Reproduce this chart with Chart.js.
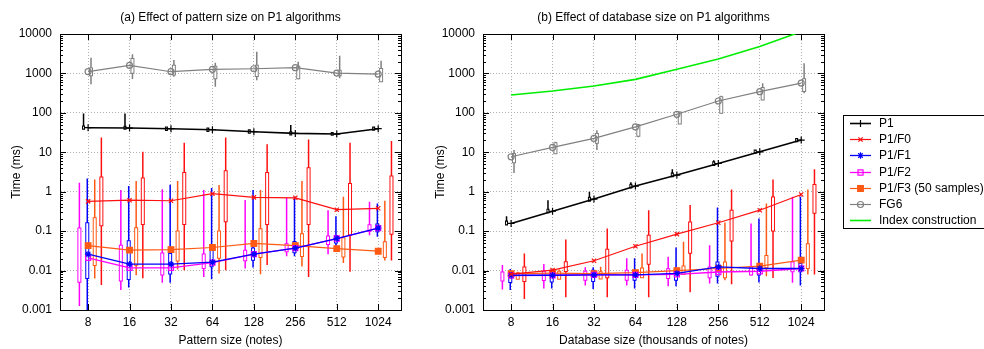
<!DOCTYPE html>
<html>
<head>
<meta charset="utf-8">
<script src="https://cdn.jsdelivr.net/npm/chart.js@4.4.1/dist/chart.umd.min.js"></script>
<style>
body{margin:0;background:#fff;overflow:hidden;width:984px;height:349px;position:relative}
canvas{position:absolute;top:0}
#cA{left:0}
#cB{left:420px}
</style>
</head>
<body>
<canvas id="cA" width="420" height="349"></canvas>
<canvas id="cB" width="564" height="349"></canvas>
<script>
const tamanos = ['8', '16', '32', '64', '128', '256', '512', '1024'];
const decadas = [0.001, 0.01, 0.1, 1, 10, 100, 1000, 10000];
const etiquetasY = ['0.001', '0.01', '0.1', '1', '10', '100', '1000', '10000'];

// (a) tamaño del patrón: medias
const aP1 = [42, 41.2, 39.6, 37.3, 33.2, 30.1, 29, 39.6];
const aF0 = [0.57, 0.61, 0.59, 0.89, 0.72, 0.70, 0.35, 0.38];
const aF1 = [0.026, 0.0146, 0.0146, 0.0163, 0.026, 0.037, 0.065, 0.12];
const aF2 = [0.021, 0.0117, 0.0117, 0.016, 0.026, 0.037, 0.065, 0.12];
const aF3 = [0.043, 0.033, 0.034, 0.0385, 0.0487, 0.043, 0.036, 0.031];
const aFG6 = [1110, 1600, 1105, 1270, 1315, 1400, 1023, 960];

// (a) cajas: [min, q1, q3, max]
const aP1Caja = [[40, 40.5, 44, 97], [40, 40.5, 43, 97], [37, 38, 41.5, 44], [34, 35.5, 39, 41],
  [31, 32, 35, 36], [28, 29, 31.5, 49], [28, 28.5, 30, 31], [38, 38.5, 41, 43]];
const aF0Caja = [[0.0043, 0.15, 2.17, 23.8], [0.0064, 0.16, 2.05, 10.3], [0.0102, 0.162, 2.8, 17.5], [0.0102, 0.19, 3.1, 23.8],
  [0.0138, 0.162, 2.8, 16.1], [0.0069, 0.162, 3.7, 21.2], [0.0094, 0.087, 1.47, 17.5], [0.018, 0.091, 2.3, 19.4]];
const aF1Caja = [[0.0008, 0.0069, 0.15, 2.17], [0.0037, 0.0065, 0.052, 1.39], [0.0049, 0.009, 0.025, 1.5], [0.006, 0.0137, 0.03, 1.25],
  [0.012, 0.02, 0.034, 1.1], [0.023, 0.031, 0.05, 0.73], [0.03, 0.055, 0.071, 0.24], [0.072, 0.106, 0.14, 0.5]];
const aF2Caja = [[0.00126, 0.0055, 0.11, 1.69], [0.0032, 0.0059, 0.04, 1.1], [0.0049, 0.0084, 0.0256, 1.16], [0.0069, 0.0124, 0.024, 1.1],
  [0.0113, 0.0195, 0.03, 0.62], [0.023, 0.033, 0.044, 0.7], [0.026, 0.05, 0.069, 0.34], [0.079, 0.107, 0.134, 0.56]];
const aF3Caja = [[0.0063, 0.0146, 0.2, 2.05], [0.0076, 0.015, 0.112, 1.86], [0.0107, 0.019, 0.093, 1.86], [0.0084, 0.0224, 0.093, 1.47],
  [0.0081, 0.0235, 0.106, 1.1], [0.0126, 0.025, 0.079, 1.86], [0.0155, 0.024, 0.062, 0.74], [0.018, 0.0235, 0.049, 0.59]];
const aFG6Caja = [[528, 950, 1250, 2500], [721, 1104, 2190, 3055], [824, 1000, 1480, 2190], [457, 795, 1395, 1870],
  [675, 910, 1480, 3560], [710, 800, 1400, 1980], [750, 950, 1100, 2800], [675, 675, 1220, 2090]];

// (b) tamaño de la base de datos: medias
const bP1 = [0.157, 0.32, 0.65, 1.39, 2.64, 5.2, 10.3, 20.4];
const bF0 = [0.0081, 0.0103, 0.0177, 0.0415, 0.084, 0.163, 0.34, 0.85];
const bF1 = [0.0076, 0.0076, 0.0078, 0.0078, 0.0085, 0.0124, 0.0113, 0.0113];
const bF2 = [0.0075, 0.0076, 0.0078, 0.0078, 0.008, 0.0092, 0.0096, 0.0113];
const bF3 = [0.0084, 0.0086, 0.0084, 0.0089, 0.01, 0.0113, 0.0129, 0.0184];
const bFG6 = [7.7, 13.3, 22.5, 44, 92, 200, 344, 570];
const bIndice = [283, 357, 478, 708, 1270, 2320, 4800, 11500];

// (b) cajas
const bP1Caja = [[0.15, 0.152, 0.17, 0.24], [0.3, 0.31, 0.34, 0.61], [0.6, 0.61, 0.68, 1.0], [1.29, 1.32, 1.45, 1.75],
  [2.5, 2.55, 2.8, 3.7], [4.7, 4.9, 5.4, 6.3], [9.8, 10, 10.8, 11.2], [19, 19.5, 21, 22]];
const bF0Caja = [[0.0019, 0.0058, 0.0113, 0.027], [0.0021, 0.0104, 0.0153, 0.0615], [0.0021, 0.0072, 0.0317, 0.117], [0.0021, 0.0158, 0.072, 0.34],
  [0.0028, 0.030, 0.157, 0.46], [0.0045, 0.0615, 0.31, 1.14], [0.0065, 0.11, 0.67, 2.05], [0.008, 0.31, 1.39, 3.7]];
const bF1Caja = [[0.0032, 0.0054, 0.0084, 0.011], [0.0035, 0.0056, 0.0093, 0.0105], [0.0034, 0.0058, 0.0093, 0.0122], [0.0035, 0.0062, 0.0093, 0.0204],
  [0.004, 0.0062, 0.0097, 0.0385], [0.0047, 0.0078, 0.0152, 0.4], [0.005, 0.0084, 0.0124, 0.21], [0.0042, 0.0102, 0.0139, 0.74]];
const bF2Caja = [[0.0033, 0.0059, 0.0084, 0.0138], [0.0035, 0.0061, 0.0088, 0.0147], [0.0042, 0.0062, 0.0088, 0.0122], [0.0042, 0.0062, 0.0093, 0.0204],
  [0.004, 0.0069, 0.0102, 0.0224], [0.0047, 0.0072, 0.0113, 0.044], [0.0075, 0.0084, 0.0113, 0.157], [0.0049, 0.0102, 0.0152, 0.74]];
const bF3Caja = [[0.0064, 0.0066, 0.0081, 0.0093], [0.0064, 0.0066, 0.0088, 0.0106], [0.0064, 0.0067, 0.0086, 0.0125], [0.0072, 0.0072, 0.0106, 0.027],
  [0.0081, 0.0087, 0.0119, 0.054], [0.0057, 0.0072, 0.0152, 0.166], [0.0072, 0.0129, 0.022, 0.5], [0.008, 0.0124, 0.044, 1.14]];
const bFG6Caja = [[3.0, 5.9, 8.5, 11.4], [9.4, 10, 16, 18.6], [11.4, 18.6, 27.6, 36], [24, 28, 46, 52],
  [54, 57, 97, 107], [98, 107, 233, 270], [211, 230, 400, 565], [316, 380, 675, 1800]];

const fuente = {family: '"Liberation Sans", Arial, Helvetica, sans-serif', size: 12};
Chart.defaults.font.family = fuente.family;
Chart.defaults.font.size = 12;
Chart.defaults.color = '#000';

const xMin = -0.678, xMax = 7.55;

// estilo de cada serie
const estilos = {
  P1:  {color: '#000000', desp: -0.11, estilo: 'cross', r: 3.5, relleno: false, ancho: 1.6, caja: 3},
  F0:  {color: '#ff1010', desp: 0.32, estilo: 'crossRot', r: 3, relleno: false, ancho: 1.2, caja: 4},
  F1:  {color: '#0000ff', desp: -0.02, estilo: 'star', r: 3.2, relleno: false, ancho: 1.3, caja: 4},
  F2:  {color: '#ff00ff', desp: -0.21, estilo: 'rect', r: 3.6, relleno: false, ancho: 1.3, caja: 4},
  F3:  {color: '#ff5a14', desp: 0.16, estilo: 'rect', r: 4, relleno: true, ancho: 1.2, caja: 4},
  FG6: {color: '#808080', desp: 0.07, estilo: 'circle', r: 3, relleno: false, ancho: 1.2, caja: 4}
};

function serie(nombre, medias, cajas, e) {
  const bigote = [], caja = [];
  cajas.forEach((c, i) => {
    const x = i + e.desp;
    bigote.push({x: x, y: c[0]}, {x: x, y: c[3]}, {x: x, y: null});
    caja.push({x: x, y: c[1]}, {x: x, y: c[2]}, {x: x, y: null});
  });
  const base = {type: 'line', xAxisID: 'x', yAxisID: 'y', pointRadius: 0, spanGaps: false, fill: false, tension: 0};
  return [
    {...base, label: nombre, enLeyenda: true, data: medias.map((v, i) => ({x: i, y: v})),
      borderColor: e.color, borderWidth: e.ancho, pointRadius: e.r, pointStyle: e.estilo,
      pointBorderColor: e.color, pointBorderWidth: 1.2,
      pointBackgroundColor: e.relleno ? e.color : 'rgba(0,0,0,0)', order: 0},
    {...base, data: bigote, borderColor: e.color, borderWidth: 1.5, order: 3},
    {...base, data: caja, borderColor: e.color, borderWidth: e.caja, borderCapStyle: 'square', order: 2},
    {...base, data: caja, borderColor: '#ffffff', borderWidth: e.caja - 2, borderCapStyle: 'square', order: 1}
  ];
}

// marcas hacia dentro en los cuatro bordes
const marcas = {
  id: 'marcas',
  afterDraw(chart) {
    const ctx = chart.ctx, a = chart.chartArea, x = chart.scales.x, y = chart.scales.y;
    ctx.save();
    ctx.strokeStyle = '#000';
    ctx.lineWidth = 1;
    ctx.beginPath();
    for (let d = -3; d <= 4; d++) {
      for (let m = 1; m <= 9; m++) {
        const v = m * Math.pow(10, d);
        if (v > 10000) break;
        const py = Math.round(y.getPixelForValue(v)) + 0.5;
        const largo = m === 1 ? 6 : 3;
        ctx.moveTo(a.left, py); ctx.lineTo(a.left + largo, py);
        ctx.moveTo(a.right, py); ctx.lineTo(a.right - largo, py);
      }
    }
    for (let i = 0; i < tamanos.length; i++) {
      const px = Math.round(x.getPixelForValue(i)) + 0.5;
      ctx.moveTo(px, a.top); ctx.lineTo(px, a.top + 6);
      ctx.moveTo(px, a.bottom); ctx.lineTo(px, a.bottom - 6);
    }
    ctx.stroke();
    ctx.restore();
  }
};

// leyenda con marco, a la derecha del segundo gráfico
const leyenda = {
  id: 'leyenda',
  afterDraw(chart) {
    const ctx = chart.ctx;
    const items = chart.data.datasets.filter(d => d.enLeyenda);
    const x0 = 423, y0 = 115, paso = 16.2;
    ctx.save();
    ctx.strokeStyle = '#000';
    ctx.lineWidth = 1;
    ctx.strokeRect(x0 + 0.5, y0 + 0.5, 200, 113);
    ctx.font = '12px ' + fuente.family;
    ctx.textBaseline = 'middle';
    items.forEach((d, i) => {
      const cy = Math.round(y0 + 8 + i * paso) + 0.5;
      ctx.strokeStyle = d.borderColor;
      ctx.lineWidth = d.borderWidth;
      ctx.beginPath();
      ctx.moveTo(x0 + 7, cy);
      ctx.lineTo(x0 + 28, cy);
      ctx.stroke();
      if (d.pointRadius > 0 && Chart.helpers && Chart.helpers.drawPoint) {
        ctx.lineWidth = 1.2;
        ctx.fillStyle = d.pointBackgroundColor;
        Chart.helpers.drawPoint(ctx, {pointStyle: d.pointStyle, radius: d.pointRadius, borderWidth: 1.2, rotation: 0}, x0 + 17.5, cy);
      }
      ctx.fillStyle = '#000';
      ctx.fillText(d.label, x0 + 36, cy);
    });
    ctx.restore();
  }
};

function opciones(titulo, tituloX, anchoIzq, anchoDer, sepTitulo) {
  return {
    responsive: false,
    animation: false,
    events: [],
    devicePixelRatio: 1,
    layout: {padding: 0},
    plugins: {legend: {display: false}, tooltip: {enabled: false}},
    scales: {
      x: {
        type: 'linear', position: 'bottom', min: xMin, max: xMax,
        afterBuildTicks: s => { s.ticks = tamanos.map((t, i) => ({value: i})); },
        ticks: {callback: v => tamanos[v], font: fuente, color: '#000', padding: 5, maxRotation: 0, autoSkip: false},
        grid: {color: '#b0b0b0', lineWidth: 1, drawTicks: false},
        border: {display: true, color: '#000', width: 1, dash: [1, 2]},
        title: {display: true, text: tituloX, font: fuente, color: '#000', padding: {top: 0, bottom: 1}},
        afterFit: s => { s.height = 39; }
      },
      x2: {
        type: 'linear', position: 'top', min: xMin, max: xMax,
        ticks: {display: false},
        grid: {display: false, drawTicks: false},
        border: {display: true, color: '#000', width: 1},
        title: {display: true, text: titulo, font: fuente, color: '#000', padding: {top: 10, bottom: 0}},
        afterFit: s => { s.height = 34; }
      },
      y: {
        type: 'logarithmic', position: 'left', min: 0.001, max: 10000,
        afterBuildTicks: s => { s.ticks = decadas.map(v => ({value: v})); },
        ticks: {callback: (v, i) => etiquetasY[decadas.indexOf(v)], font: fuente, color: '#000', padding: 8, autoSkip: false},
        grid: {color: '#b0b0b0', lineWidth: 1, drawTicks: false},
        border: {display: true, color: '#000', width: 1, dash: [1, 2]},
        title: {display: true, text: 'Time (ms)', font: fuente, color: '#000', padding: {top: sepTitulo, bottom: 0}},
        afterFit: s => { s.width = anchoIzq; }
      },
      y2: {
        type: 'logarithmic', position: 'right', min: 0.001, max: 10000,
        ticks: {display: false},
        grid: {display: false, drawTicks: false},
        border: {display: true, color: '#000', width: 1},
        afterFit: s => { s.width = anchoDer; }
      }
    }
  };
}

const datosA = [].concat(
  serie('P1', aP1, aP1Caja, estilos.P1),
  serie('P1/F0', aF0, aF0Caja, estilos.F0),
  serie('P1/F1', aF1, aF1Caja, estilos.F1),
  serie('P1/F2', aF2, aF2Caja, estilos.F2),
  serie('P1/F3 (50 samples)', aF3, aF3Caja, estilos.F3),
  serie('FG6', aFG6, aFG6Caja, estilos.FG6)
);

const datosB = [].concat(
  serie('P1', bP1, bP1Caja, estilos.P1),
  serie('P1/F0', bF0, bF0Caja, estilos.F0),
  serie('P1/F1', bF1, bF1Caja, estilos.F1),
  serie('P1/F2', bF2, bF2Caja, estilos.F2),
  serie('P1/F3 (50 samples)', bF3, bF3Caja, estilos.F3),
  serie('FG6', bFG6, bFG6Caja, estilos.FG6),
  [{type: 'line', xAxisID: 'x', yAxisID: 'y', label: 'Index construction', enLeyenda: true,
    data: bIndice.map((v, i) => ({x: i, y: v})), borderColor: '#00ee00', borderWidth: 1.6,
    pointRadius: 0, fill: false, tension: 0, order: 0}]
);

new Chart(document.getElementById('cA'), {
  type: 'line',
  data: {datasets: datosA},
  options: opciones('(a) Effect of pattern size on P1 algorithms', 'Pattern size (notes)', 60, 19, 9),
  plugins: [marcas]
});

new Chart(document.getElementById('cB'), {
  type: 'line',
  data: {datasets: datosB},
  options: opciones('(b) Effect of database size on P1 algorithms', 'Database size (thousands of notes)', 63, 160, 13),
  plugins: [marcas, leyenda]
});
</script>
</body>
</html>
